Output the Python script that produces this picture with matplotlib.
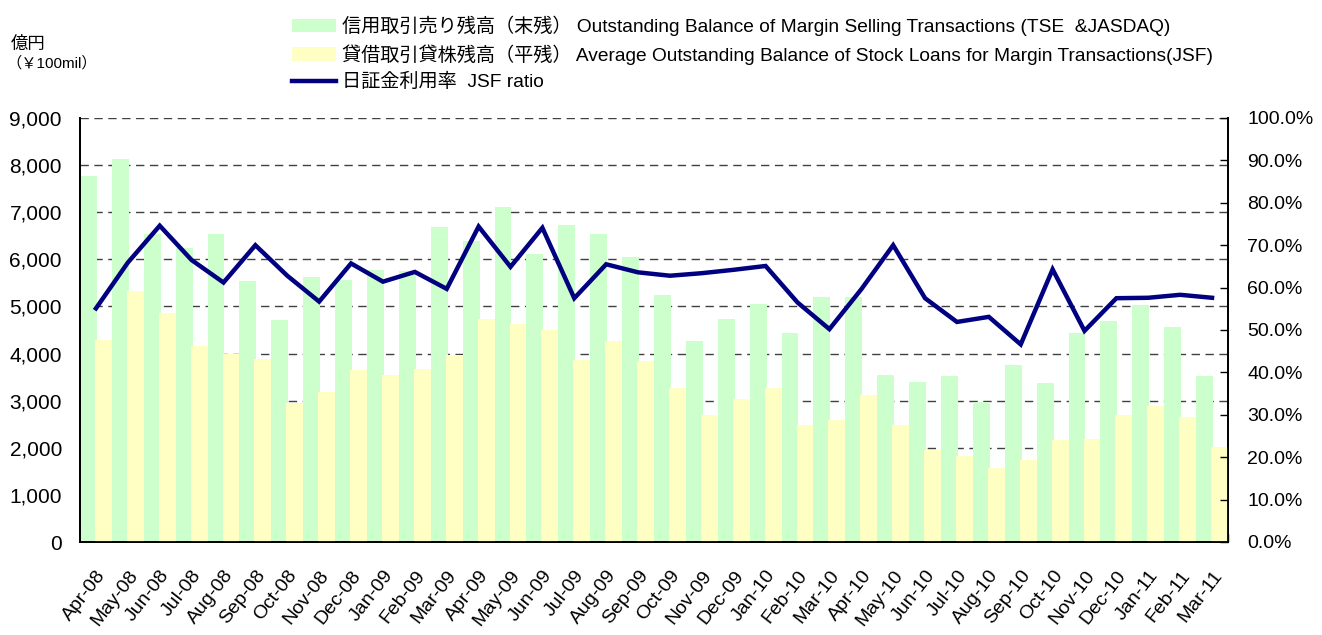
import matplotlib
matplotlib.use("Agg")
import matplotlib.pyplot as plt
import numpy as np
from matplotlib.patches import Patch
from matplotlib.lines import Line2D
from matplotlib.ticker import FuncFormatter, MultipleLocator

plt.rcParams['font.family'] = ['Liberation Sans', 'Noto Sans CJK JP', 'DejaVu Sans']

months = ["Apr-08", "May-08", "Jun-08", "Jul-08", "Aug-08", "Sep-08", "Oct-08", "Nov-08", "Dec-08",
          "Jan-09", "Feb-09", "Mar-09", "Apr-09", "May-09", "Jun-09", "Jul-09", "Aug-09", "Sep-09",
          "Oct-09", "Nov-09", "Dec-09", "Jan-10", "Feb-10", "Mar-10", "Apr-10", "May-10", "Jun-10",
          "Jul-10", "Aug-10", "Sep-10", "Oct-10", "Nov-10", "Dec-10", "Jan-11", "Feb-11", "Mar-11"]

margin_selling = [7770, 8130, 6540, 6240, 6540, 5540, 4710, 5625, 5560, 5775, 5745, 6690,
                  6390, 7110, 6115, 6730, 6540, 6050, 5245, 4265, 4735, 5050, 4435, 5200,
                  5200, 3545, 3395, 3525, 2970, 3755, 3375, 4435, 4690, 5030, 4565, 3525]

stock_loans = [4290, 5330, 4860, 4160, 3990, 3885, 2950, 3185, 3650, 3545, 3670, 3970,
               4735, 4625, 4500, 3865, 4265, 3840, 3270, 2695, 3035, 3270, 2485, 2590,
               3120, 2485, 1955, 1825, 1570, 1740, 2165, 2185, 2695, 2885, 2655, 2015]

jsf_ratio = [55.1, 65.9, 74.6, 66.5, 61.2, 70.0, 62.8, 56.7, 65.7, 61.4, 63.7, 59.7,
             74.4, 64.9, 74.1, 57.5, 65.5, 63.6, 62.8, 63.4, 64.2, 65.1, 56.5, 50.2,
             59.6, 70.0, 57.5, 51.9, 53.1, 46.6, 64.3, 49.8, 57.5, 57.6, 58.3, 57.6]

label_green = "信用取引売り残高（末残） Outstanding Balance of Margin Selling Transactions (TSE  &JASDAQ)"
label_yellow = "貸借取引貸株残高（平残） Average Outstanding Balance of Stock Loans for Margin Transactions(JSF)"
label_line = "日証金利用率  JSF ratio"

GREEN = "#CCFFCC"
YELLOW = "#FFFFC4"
NAVY = "#000080"

fig = plt.figure(figsize=(13.22, 6.35), dpi=100)
ax = fig.add_axes([80/1322, 1-542/635, (1228-80)/1322, (542-118)/635])
x = np.arange(len(months))
w = 0.53
ax.bar(x - 0.235, margin_selling, width=w, color=GREEN, linewidth=0, zorder=2)
ax.bar(x + 0.235, stock_loans, width=w, color=YELLOW, linewidth=0, zorder=3)

ax.set_xlim(-0.5, len(months) - 0.5)
ax.set_ylim(0, 9000)
ax.yaxis.set_major_locator(MultipleLocator(1000))
ax.yaxis.set_major_formatter(FuncFormatter(lambda v, p: f"{int(v):,}"))
for yv in range(1000, 9001, 1000):
    ax.axhline(yv, color="#404040", lw=1.0, ls=(0, (6, 4)), zorder=1)
ax.spines['top'].set_visible(False)
for s in ['left', 'bottom', 'right']:
    ax.spines[s].set_linewidth(1.3)
    ax.spines[s].set_color('black')

ax.set_xticks(x)
ax.set_xticklabels(months, rotation=52, ha='right', va='top', rotation_mode='anchor', fontsize=14)
ax.set_xticks(np.arange(-0.5, len(months), 1), minor=True)
ax.tick_params(axis='x', which='major', length=0, pad=18)
ax.tick_params(axis='x', which='minor', length=6, direction='in', width=1)
ax.tick_params(axis='y', which='major', length=0, labelsize=15, pad=13)

ax2 = ax.twinx()
ax2.plot(x, jsf_ratio, color=NAVY, lw=3.2, zorder=5, solid_joinstyle='miter')
ax2.set_ylim(0, 100)
ax2.yaxis.set_major_locator(MultipleLocator(10))
ax2.yaxis.set_major_formatter(FuncFormatter(lambda v, p: f"{v:.1f}%"))
ax2.tick_params(axis='y', direction='in', length=6, width=1, labelsize=14, pad=14)
ax2.spines['top'].set_visible(False)
for s in ['left', 'bottom', 'right']:
    ax2.spines[s].set_linewidth(1.3)

fig.text(11/1322, 1-44/635, "億円", fontsize=12.5, va='center', ha='left')
fig.text(6/1322, 1-63/635, "（￥100mil）", fontsize=11, va='center', ha='left')

handles = [Patch(facecolor=GREEN, edgecolor='none'),
           Patch(facecolor=YELLOW, edgecolor='none'),
           Line2D([0], [0], color=NAVY, lw=3.2)]
fig.legend(handles, [label_green, label_yellow, label_line], loc='upper left',
           bbox_to_anchor=(284/1322, 1-8/635), frameon=False, fontsize=13.8,
           handlelength=2.3, handleheight=0.7, handletextpad=0.3, labelspacing=0.43,
           borderaxespad=0)

fig.savefig("out.png", dpi=100)
